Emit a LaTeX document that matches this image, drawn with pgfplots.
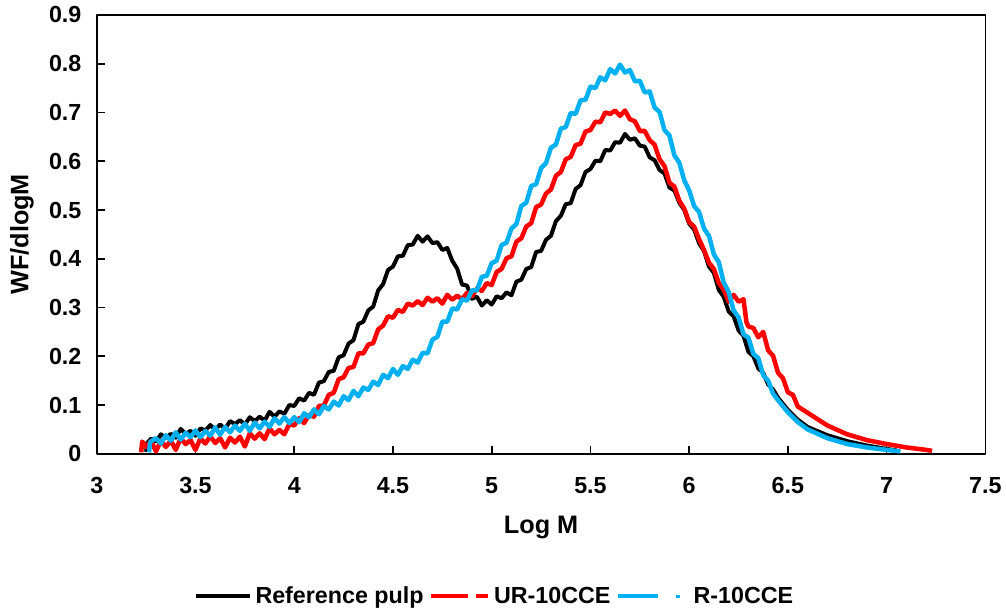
\documentclass[border=0pt]{standalone}
\usepackage{fontspec}
\setmainfont{Liberation Sans}
\usepackage{pgfplots}
\pgfplotsset{compat=1.18}
\definecolor{cyanx}{RGB}{0,176,240}
\definecolor{redx}{RGB}{255,0,0}
\begin{document}
\begin{tikzpicture}
\begin{axis}[
  scale only axis,
  width=668.25pt, height=330pt,
  xmin=3, xmax=7.5, ymin=0, ymax=0.9,
  xtick={3,3.5,...,7.5},
  ytick={0,0.1,...,0.9},
  tick align=inside,
  xtick pos=left, ytick pos=left,
  major tick length=6pt,
  every tick/.style={black, line width=1.2pt},
  axis line style={black, line width=1.2pt},
  /pgf/number format/assume math mode=true,
  tick label style={font=\fontsize{17.5}{21}\selectfont\bfseries},
  yticklabel style={/pgf/number format/fixed, /pgf/number format/precision=1, xshift=-8pt},
  xticklabel style={yshift=-14pt},
  xlabel={Log M},
  ylabel={WF/dlogM},
  every axis x label/.style={at={(axis description cs:0.5,-0.168)}, anchor=center, font=\fontsize{19}{22}\selectfont\bfseries},
  every axis y label/.style={at={(axis description cs:-0.0842,0.5)}, anchor=center, rotate=90, font=\fontsize{19}{22}\selectfont\bfseries},
  legend style={at={(axis description cs:0.449,-0.325)}, anchor=center, draw=none, fill=none,
    font=\fontsize{17.5}{21}\selectfont\bfseries, legend columns=3,
    /tikz/every even column/.append style={column sep=1pt},
    nodes={inner xsep=3pt, inner ysep=1pt}},
  line join=round,
]
\addplot[black, line width=3pt, legend image code/.code={\draw[black,line width=3pt] (0,0) -- (40pt,0);}] coordinates {
(3.250,0.004)(3.255,0.022)(3.275,0.031)(3.300,0.025)(3.325,0.040)(3.350,0.032)(3.375,0.041)(3.400,0.033)
(3.425,0.051)(3.450,0.041)(3.475,0.047)(3.500,0.037)(3.525,0.052)(3.550,0.048)(3.575,0.059)(3.600,0.049)
(3.625,0.060)(3.650,0.051)(3.675,0.067)(3.700,0.061)(3.725,0.069)(3.750,0.060)(3.775,0.075)(3.800,0.067)
(3.825,0.076)(3.850,0.068)(3.875,0.086)(3.900,0.076)(3.925,0.087)(3.950,0.082)(3.975,0.100)(4.000,0.098)
(4.025,0.114)(4.050,0.109)(4.075,0.125)(4.100,0.121)(4.125,0.146)(4.150,0.149)(4.175,0.168)(4.200,0.170)
(4.225,0.198)(4.250,0.202)(4.275,0.226)(4.300,0.233)(4.325,0.266)(4.350,0.271)(4.375,0.294)(4.400,0.302)
(4.425,0.335)(4.450,0.348)(4.475,0.377)(4.500,0.384)(4.525,0.405)(4.550,0.406)(4.575,0.428)(4.600,0.429)
(4.625,0.447)(4.650,0.435)(4.675,0.446)(4.700,0.432)(4.725,0.434)(4.750,0.418)(4.775,0.422)(4.800,0.396)
(4.825,0.380)(4.850,0.347)(4.875,0.345)(4.900,0.318)(4.925,0.322)(4.950,0.304)(4.975,0.315)(5.000,0.306)
(5.025,0.323)(5.050,0.319)(5.075,0.331)(5.100,0.325)(5.125,0.353)(5.150,0.357)(5.175,0.379)(5.200,0.383)
(5.225,0.414)(5.250,0.416)(5.275,0.439)(5.300,0.447)(5.325,0.477)(5.350,0.488)(5.375,0.512)(5.400,0.514)
(5.425,0.543)(5.450,0.551)(5.475,0.578)(5.500,0.584)(5.525,0.601)(5.550,0.600)(5.575,0.623)(5.600,0.622)
(5.625,0.639)(5.650,0.638)(5.675,0.656)(5.700,0.644)(5.725,0.647)(5.750,0.632)(5.775,0.630)(5.800,0.608)
(5.825,0.602)(5.850,0.582)(5.875,0.575)(5.900,0.546)(5.925,0.540)(5.950,0.515)(5.975,0.500)(6.000,0.472)
(6.025,0.460)(6.050,0.432)(6.075,0.416)(6.100,0.384)(6.125,0.371)(6.150,0.336)(6.175,0.322)(6.200,0.292)
(6.225,0.282)(6.250,0.253)(6.275,0.242)(6.300,0.209)(6.325,0.200)(6.350,0.175)(6.375,0.166)(6.400,0.142)
(6.425,0.132)(6.450,0.115)(6.500,0.090)(6.550,0.070)(6.600,0.055)(6.700,0.038)(6.800,0.026)(6.900,0.017)
(7.000,0.010)(7.050,0.007)
};
\addlegendentry{Reference pulp}
\addplot[redx, line width=3.4pt, legend image code/.code={\draw[redx,line width=3pt] (0,0) -- (28pt,0); \draw[redx,line width=3pt] (34pt,0) -- (43pt,0);}] coordinates {
(3.225,0.003)(3.230,0.025)(3.250,0.014)(3.275,0.026)(3.300,0.005)(3.325,0.027)(3.350,0.014)(3.375,0.027)
(3.400,0.008)(3.425,0.032)(3.450,0.020)(3.475,0.028)(3.500,0.008)(3.525,0.032)(3.550,0.021)(3.575,0.036)
(3.600,0.022)(3.625,0.032)(3.650,0.013)(3.675,0.033)(3.700,0.023)(3.725,0.035)(3.750,0.015)(3.775,0.042)
(3.800,0.031)(3.825,0.042)(3.850,0.030)(3.875,0.052)(3.900,0.040)(3.925,0.049)(3.950,0.040)(3.975,0.061)
(4.000,0.058)(4.025,0.073)(4.050,0.063)(4.075,0.080)(4.100,0.076)(4.125,0.098)(4.150,0.099)(4.175,0.121)
(4.200,0.125)(4.225,0.153)(4.250,0.157)(4.275,0.176)(4.300,0.178)(4.325,0.206)(4.350,0.206)(4.375,0.224)
(4.400,0.227)(4.425,0.255)(4.450,0.263)(4.475,0.282)(4.500,0.279)(4.525,0.295)(4.550,0.291)(4.575,0.308)
(4.600,0.304)(4.625,0.313)(4.650,0.305)(4.675,0.320)(4.700,0.312)(4.725,0.319)(4.750,0.308)(4.775,0.326)
(4.800,0.316)(4.825,0.324)(4.850,0.317)(4.875,0.330)(4.900,0.323)(4.925,0.339)(4.950,0.334)(4.975,0.350)
(5.000,0.346)(5.025,0.373)(5.050,0.379)(5.075,0.401)(5.100,0.405)(5.125,0.435)(5.150,0.442)(5.175,0.466)
(5.200,0.473)(5.225,0.506)(5.250,0.511)(5.275,0.534)(5.300,0.542)(5.325,0.570)(5.350,0.578)(5.375,0.604)
(5.400,0.609)(5.425,0.633)(5.450,0.636)(5.475,0.661)(5.500,0.664)(5.525,0.681)(5.550,0.680)(5.575,0.700)
(5.600,0.697)(5.625,0.704)(5.650,0.693)(5.675,0.704)(5.700,0.686)(5.725,0.682)(5.750,0.662)(5.775,0.662)
(5.800,0.643)(5.825,0.634)(5.850,0.604)(5.875,0.590)(5.900,0.556)(5.925,0.548)(5.950,0.519)(5.975,0.503)
(6.000,0.475)(6.025,0.466)(6.050,0.440)(6.075,0.418)(6.100,0.392)(6.125,0.379)(6.150,0.350)(6.175,0.337)
(6.200,0.312)(6.225,0.326)(6.250,0.312)(6.275,0.317)(6.290,0.270)(6.300,0.261)(6.325,0.258)(6.350,0.239)
(6.375,0.250)(6.400,0.212)(6.425,0.201)(6.450,0.166)(6.475,0.155)(6.500,0.126)(6.525,0.121)(6.550,0.097)
(6.600,0.084)(6.700,0.058)(6.800,0.040)(6.900,0.028)(7.000,0.020)(7.100,0.013)(7.200,0.008)(7.230,0.006)
};
\addlegendentry{UR-10CCE}
\addplot[cyanx, line width=3.4pt, legend image code/.code={\draw[cyanx,line width=3pt] (0,0) -- (30pt,0); \draw[cyanx,line width=2.6pt] (44pt,0) -- (46.5pt,0); \path[draw=none] (0,0) -- (54pt,0);}] coordinates {
(3.265,0.003)(3.270,0.024)(3.300,0.032)(3.325,0.021)(3.350,0.038)(3.375,0.027)(3.400,0.044)(3.425,0.029)
(3.450,0.043)(3.475,0.034)(3.500,0.048)(3.525,0.034)(3.550,0.047)(3.575,0.037)(3.600,0.054)(3.625,0.039)
(3.650,0.055)(3.675,0.044)(3.700,0.058)(3.725,0.047)(3.750,0.062)(3.775,0.047)(3.800,0.064)(3.825,0.052)
(3.850,0.066)(3.875,0.055)(3.900,0.073)(3.925,0.062)(3.950,0.075)(3.975,0.063)(4.000,0.075)(4.025,0.065)
(4.050,0.083)(4.075,0.075)(4.100,0.091)(4.125,0.081)(4.150,0.098)(4.175,0.091)(4.200,0.107)(4.225,0.099)
(4.250,0.118)(4.275,0.110)(4.300,0.129)(4.325,0.118)(4.350,0.136)(4.375,0.131)(4.400,0.148)(4.425,0.141)
(4.450,0.162)(4.475,0.155)(4.500,0.174)(4.525,0.162)(4.550,0.180)(4.575,0.174)(4.600,0.193)(4.625,0.187)
(4.650,0.207)(4.675,0.206)(4.700,0.234)(4.725,0.240)(4.750,0.271)(4.775,0.271)(4.800,0.298)(4.825,0.296)
(4.850,0.317)(4.875,0.314)(4.900,0.335)(4.925,0.335)(4.950,0.363)(4.975,0.365)(5.000,0.391)(5.025,0.396)
(5.050,0.428)(5.075,0.433)(5.100,0.462)(5.125,0.471)(5.150,0.508)(5.175,0.515)(5.200,0.549)(5.225,0.553)
(5.250,0.586)(5.275,0.596)(5.300,0.628)(5.325,0.634)(5.350,0.667)(5.375,0.670)(5.400,0.699)(5.425,0.697)
(5.450,0.725)(5.475,0.726)(5.500,0.753)(5.525,0.750)(5.550,0.772)(5.575,0.766)(5.600,0.789)(5.625,0.780)
(5.650,0.798)(5.675,0.782)(5.700,0.787)(5.725,0.764)(5.750,0.765)(5.775,0.741)(5.800,0.743)(5.825,0.710)
(5.850,0.701)(5.875,0.664)(5.900,0.653)(5.925,0.612)(5.950,0.597)(5.975,0.561)(6.000,0.540)(6.025,0.508)
(6.050,0.496)(6.075,0.462)(6.100,0.447)(6.125,0.409)(6.150,0.393)(6.175,0.351)(6.200,0.332)(6.225,0.294)
(6.250,0.280)(6.275,0.245)(6.300,0.238)(6.325,0.205)(6.350,0.196)(6.375,0.161)(6.400,0.150)(6.425,0.123)
(6.450,0.110)(6.500,0.085)(6.550,0.065)(6.600,0.050)(6.700,0.032)(6.800,0.020)(6.900,0.013)(7.000,0.008)
(7.070,0.005)
};
\addlegendentry{R-10CCE}
\end{axis}
\path ([shift={(-72.75pt,-117.75pt)}]current axis.south west) rectangle ([shift={(13.5pt,11.25pt)}]current axis.north east);
\end{tikzpicture}
\end{document}
